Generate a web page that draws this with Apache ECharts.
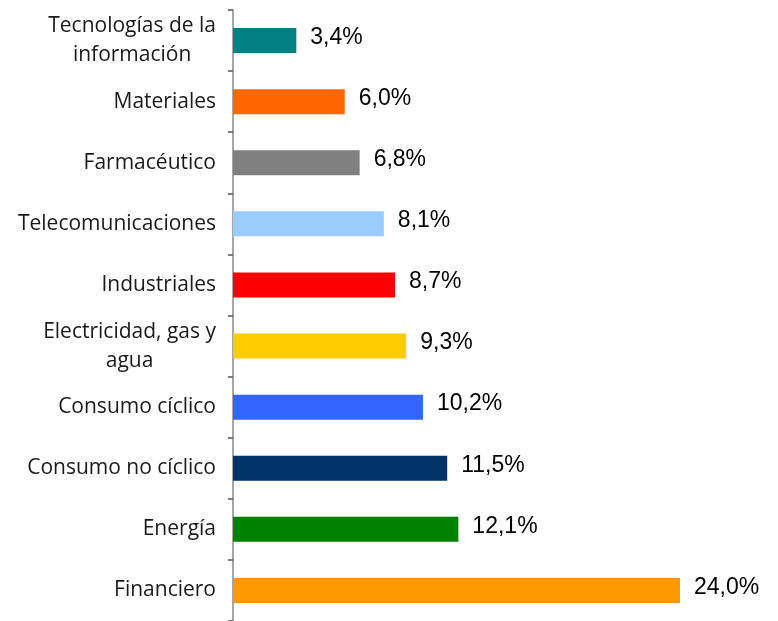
<!DOCTYPE html>
<html>
<head>
<meta charset="utf-8">
<script src="https://cdn.jsdelivr.net/npm/echarts@6/dist/echarts.min.js"></script>
<style>
  html, body { margin: 0; padding: 0; background: #fff; }
  #chart { width: 778px; height: 621px; }
</style>
</head>
<body>
<div id="chart"></div>
<script>
// sectores, de arriba abajo
const sectores = [
  'Tecnologías de la\ninformación',
  'Materiales',
  'Farmacéutico',
  'Telecomunicaciones',
  'Industriales',
  'Electricidad, gas y\nagua',
  'Consumo cíclico',
  'Consumo no cíclico',
  'Energía',
  'Financiero'
];
const pesos = [3.4, 6.0, 6.8, 8.1, 8.7, 9.3, 10.2, 11.5, 12.1, 24.0];
const colores = ['#008080', '#FF6600', '#808080', '#99CCFF', '#FF0000',
                 '#FFCC00', '#3366FF', '#003366', '#008000', '#FF9900'];

const fuenteEje = { fontFamily: 'Open Sans', fontSize: 21, color: '#1a1a1a', lineHeight: 29 };

const chart = echarts.init(document.getElementById('chart'));
chart.setOption({
  animation: false,
  grid: { left: 233, right: 98, top: 10, bottom: -2, containLabel: false },
  xAxis: {
    type: 'value',
    min: 0,
    max: 24,
    show: false
  },
  yAxis: {
    type: 'category',
    inverse: true,
    data: sectores,
    axisLine: { lineStyle: { color: '#888', width: 1.5 } },
    axisTick: { show: true, inside: false, length: 5, lineStyle: { color: '#555', width: 1.5 } },
    axisLabel: Object.assign({
      margin: 17,
      align: 'right',
      // las etiquetas de dos líneas van centradas
      formatter: v => v.split('\n').map(s => '{c|' + s + '}').join('\n'),
      rich: { c: Object.assign({ align: 'center' }, fuenteEje) }
    }, fuenteEje)
  },
  series: [{
    type: 'bar',
    barWidth: 25,
    data: pesos.map((v, i) => ({ value: v, itemStyle: { color: colores[i] } })),
    label: {
      show: true,
      position: 'right',
      distance: 14,
      offset: [0, -3],
      fontFamily: 'Liberation Sans',
      fontSize: 23,
      color: '#000',
      formatter: p => p.value.toFixed(1).replace('.', ',') + '%'
    }
  }]
});
</script>
</body>
</html>
